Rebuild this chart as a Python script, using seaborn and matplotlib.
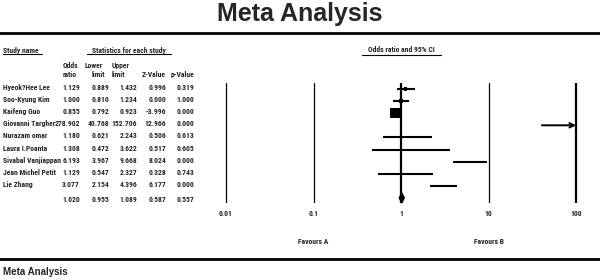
import numpy as np
import pandas as pd
import matplotlib
matplotlib.use("Agg")
import matplotlib.pyplot as plt
import matplotlib.transforms as mtransforms
from matplotlib.lines import Line2D
from matplotlib import font_manager
from matplotlib.font_manager import FontProperties
import seaborn as sns

# Data
studies = ["Hyeok?Hee Lee", "Soo-Kyung Kim", "Kaifeng Guo", "Giovanni Targher",
           "Nurazam omar", "Laura I.Poanta", "Sivabal Vanjiappan",
           "Jean Michel Petit", "Lie Zhang"]
odds_ratio = [1.129, 1.000, 0.855, 278.902, 1.180, 1.308, 6.193, 1.129, 3.077]
lower = [0.889, 0.810, 0.792, 40.768, 0.621, 0.472, 3.967, 0.547, 2.154]
upper = [1.432, 1.234, 0.923, 152.706, 2.243, 3.622, 9.668, 2.327, 4.396]
z_value = [0.996, 0.000, -3.996, 12.966, 0.506, 0.517, 8.024, 0.328, 6.177]
p_value = [0.319, 1.000, 0.000, 0.000, 0.613, 0.605, 0.000, 0.743, 0.000]

summary = {"or": 1.020, "lower": 0.955, "upper": 1.089, "z": 0.587, "p": 0.557}

axis_ticks = [0.01, 0.1, 1, 10, 100]
axis_labels = ["0.01", "0.1", "1", "10", "100"]

df = pd.DataFrame({"study": studies, "or": odds_ratio, "lower": lower,
                   "upper": upper, "z": z_value, "p": p_value})
df["row"] = np.arange(len(df))
# inverse variance weight -> box area
se = (np.log(df["upper"]) - np.log(df["lower"])) / 3.92
df["w"] = 1 / se ** 2

sns.set_theme(style="white")
plt.rcParams["font.family"] = ["Liberation Sans", "DejaVu Sans"]


def narrow_bold():
    # look for a condensed bold face (Arial Narrow look-alike)
    prefs = ["Liberation Sans Narrow", "Roboto Condensed", "Open Sans Condensed",
             "DejaVu Sans Condensed", "Condensed", "Narrow"]
    fonts = font_manager.fontManager.ttflist
    for p in prefs:
        for f in fonts:
            label = f.name + " " + f.fname.split("/")[-1]
            w = f.weight if isinstance(f.weight, int) else (700 if "bold" in str(f.weight) else 400)
            is_narrow = ("Condensed" in label or "Narrow" in label
                         or f.stretch in ("condensed", "semi-condensed"))
            if p.split()[0] in label and is_narrow and w >= 600 and "Italic" not in label \
                    and "Oblique" not in label:
                return f.fname
    return None


nb_path = narrow_bold()
if nb_path:
    small = FontProperties(fname=nb_path, size=5.5)
else:
    small = FontProperties(family="Liberation Sans", weight="bold", size=4.8)

W, H = 600, 280
fig = plt.figure(figsize=(6, 2.8), dpi=100)
fig.patch.set_facecolor("white")


def fx(px):
    return px / W


def fy(py):
    return 1 - py / H


# forest axes: x 0.01..100 between px 226 and 576, rows 89 + 12.1*i
decade = 87.5
pad_px = 10
ax = fig.add_axes([fx(226 - pad_px), fy(203), fx(350 + 2 * pad_px), (203 - 83) / H])
ax.set_xscale("log")
ax.set_xlim(10 ** (-2 - pad_px / decade), 10 ** (2 + pad_px / decade))
row_px = 12.1
ax.set_ylim((203 - 89) / row_px, (83 - 89) / row_px)
ax.patch.set_alpha(0)
for s in ax.spines.values():
    s.set_visible(False)
ax.set_yticks([])

for t in axis_ticks:
    ax.axvline(t, color="black", lw=1.6 if t in (1, 100) else 0.9, zorder=1)

# CI lines
for _, r in df.iterrows():
    if r["upper"] > axis_ticks[-1]:
        ax.annotate("", xy=(axis_ticks[-1], r["row"]), xytext=(r["lower"], r["row"]),
                    arrowprops=dict(arrowstyle="->", lw=1.4, color="black",
                                    shrinkA=0, shrinkB=0, mutation_scale=8))
    else:
        ax.hlines(r["row"], r["lower"], r["upper"], color="black", lw=1.5, zorder=2)

sns.scatterplot(data=df[df["or"] < axis_ticks[-1]], x="or", y="row", size="w",
                sizes=(0, 52), size_norm=(0, df["w"].max()), marker="s",
                color="black", edgecolor="black", linewidth=0, legend=False,
                ax=ax, zorder=3)

# summary diamond
sr = len(df)
hh = 0.42
ax.fill([summary["lower"], summary["or"], summary["upper"], summary["or"]],
        [sr, sr - hh, sr, sr + hh], color="black", zorder=3, clip_on=False)

ax.set_xlabel("")
ax.set_ylabel("")
ax.set_xticks(axis_ticks)
ax.set_xticklabels(axis_labels)
for lab in ax.get_xticklabels():
    lab.set_fontproperties(small)
ax.xaxis.set_minor_locator(matplotlib.ticker.NullLocator())
ax.tick_params(axis="x", length=0, pad=5)

# favours labels
tr_fav = mtransforms.blended_transform_factory(ax.transData, fig.transFigure)
ax.text(0.1, fy(242), "Favours A", transform=tr_fav, ha="center", va="center",
        fontproperties=small)
ax.text(10, fy(242), "Favours B", transform=tr_fav, ha="center", va="center",
        fontproperties=small)

# table on the left
tr_row = mtransforms.blended_transform_factory(fig.transFigure, ax.transData)
col_right = [fx(80), fx(109), fx(137), fx(166), fx(194)]
keys = ["or", "lower", "upper", "z", "p"]


def fmt(v):
    return f"{v:.3f}"


for _, r in df.iterrows():
    y = r["row"] - 0.12
    fig.text(fx(3), y, r["study"], transform=tr_row, ha="left", va="center",
             fontproperties=small)
    for xr, key in zip(col_right, keys):
        fig.text(xr, y, fmt(r[key]), transform=tr_row, ha="right", va="center",
                 fontproperties=small)

for xr, key in zip(col_right, keys):
    fig.text(xr, sr + 0.1, fmt(summary[key]), transform=tr_row, ha="right",
             va="center", fontproperties=small)

# headers
hdr = dict(va="center", fontproperties=small)
fig.text(fx(3), fy(50), "Study name", ha="left", **hdr)
fig.text(fx(129), fy(50), "Statistics for each study", ha="center", **hdr)
fig.text(fx(401), fy(50), "Odds ratio and 95% CI", ha="center", **hdr)
fig.add_artist(Line2D([fx(3), fx(42)], [fy(54), fy(54)], color="black", lw=0.8))
fig.add_artist(Line2D([fx(87), fx(171)], [fy(54), fy(54)], color="black", lw=0.8))
fig.add_artist(Line2D([fx(362), fx(441)], [fy(55), fy(55)], color="black", lw=0.8))

fig.text(fx(63), fy(65), "Odds", ha="left", **hdr)
fig.text(fx(63), fy(75), "ratio", ha="left", **hdr)
fig.text(fx(85), fy(65), "Lower", ha="left", **hdr)
fig.text(fx(92), fy(75), "limit", ha="left", **hdr)
fig.text(fx(112), fy(65), "Upper", ha="left", **hdr)
fig.text(fx(112), fy(75), "limit", ha="left", **hdr)
fig.text(fx(166), fy(75), "Z-Value", ha="right", **hdr)
fig.text(fx(194), fy(75), "p-Value", ha="right", **hdr)

# title and rules
fig.text(0.5, fy(14), "Meta Analysis", ha="center", va="center",
         fontsize=18, fontweight="bold")
fig.add_artist(Line2D([0, 1], [fy(33), fy(33)], color="black", lw=2))
fig.add_artist(Line2D([0, 1], [fy(259), fy(259)], color="black", lw=2))
fig.text(fx(3), fy(272), "Meta Analysis", ha="left", va="center",
         fontsize=7, fontweight="bold")

fig.savefig("out.png", dpi=100, facecolor="white")
